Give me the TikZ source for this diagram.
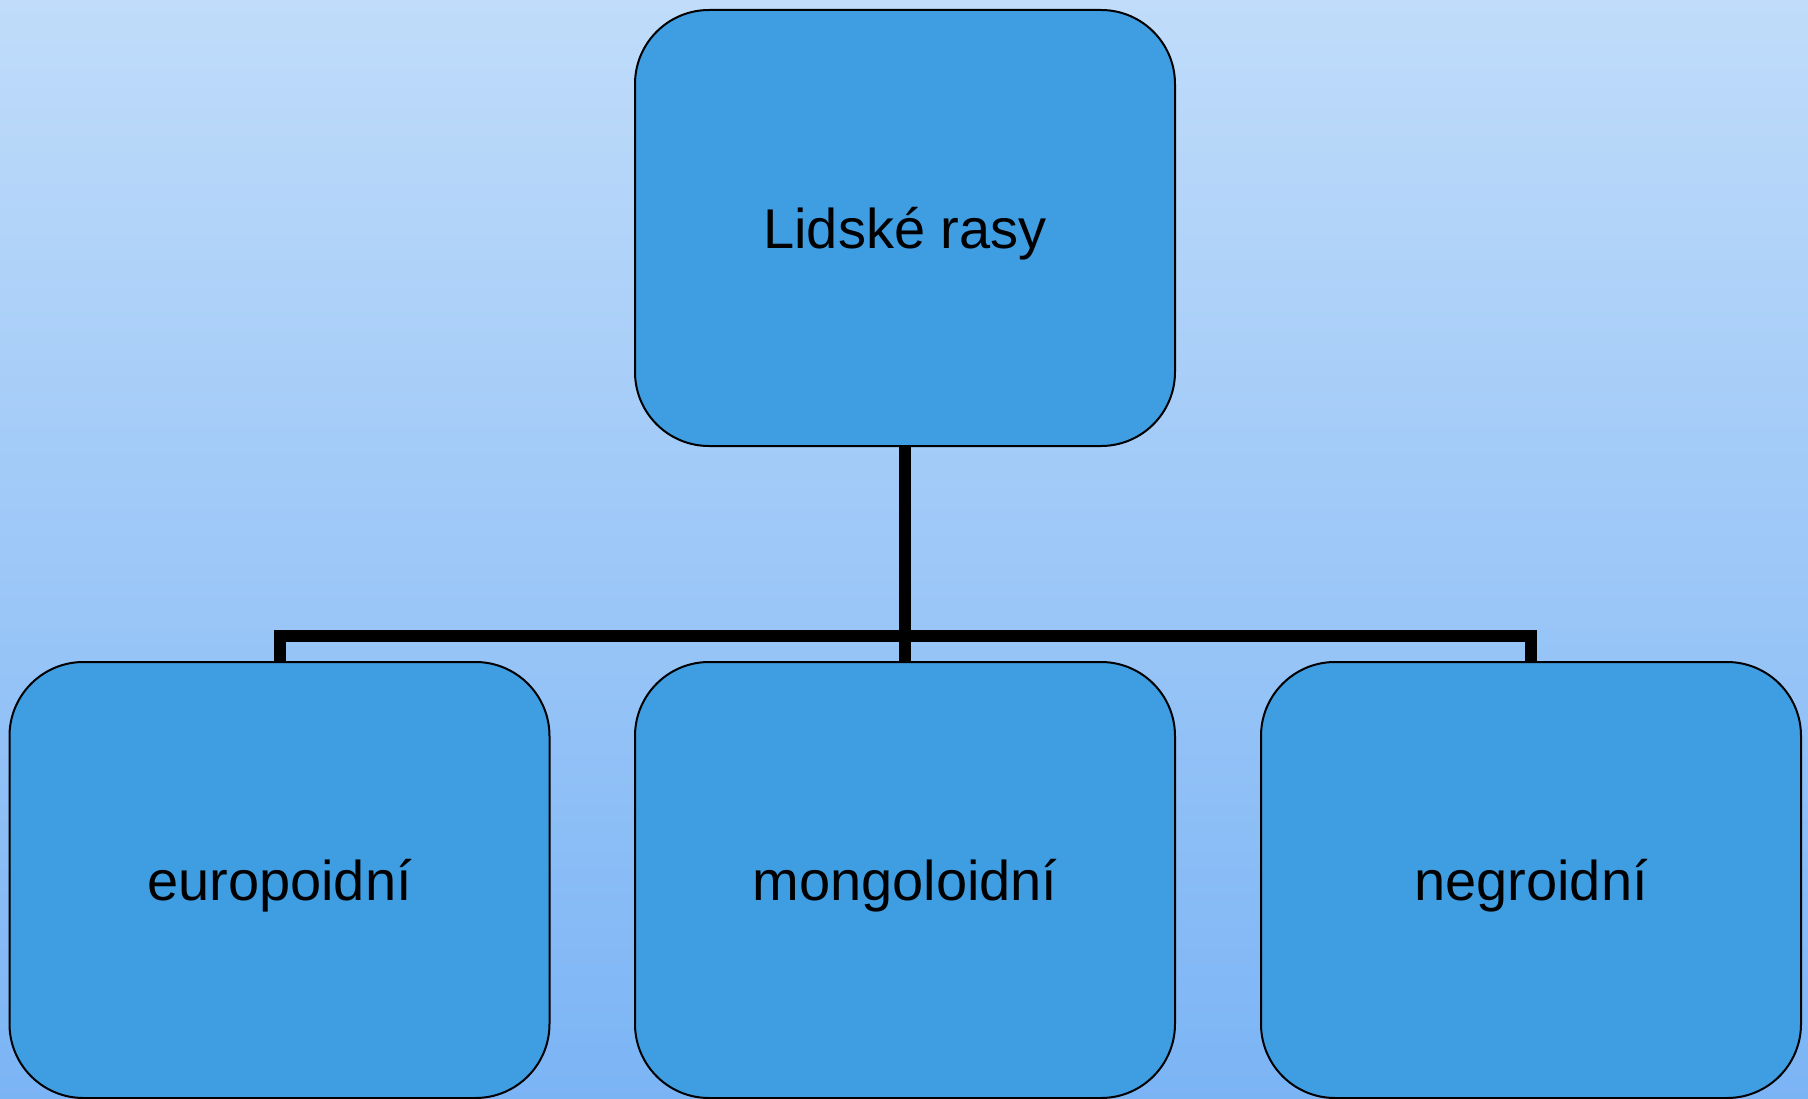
\documentclass[tikz,border=0pt]{standalone}
\usepackage{fontspec}
\setmainfont{Liberation Sans}
\definecolor{bgtop}{HTML}{C0DCFA}
\definecolor{bgbot}{HTML}{7BB4F5}
\definecolor{boxfill}{HTML}{3F9DE2}
\begin{document}
\begin{tikzpicture}[x=1pt,y=-1pt,
  rbox/.style={draw=black, line width=2pt, fill=boxfill, rounded corners=74pt,
    minimum width=540pt, minimum height=436pt, inner sep=0pt, outer sep=0pt,
    text depth=0pt, font=\fontsize{56pt}{64pt}\selectfont},
  conn/.style={line width=12pt, line join=miter, line cap=butt}]
\shade[top color=bgtop, bottom color=bgbot, middle color=bgtop!50!bgbot] (0,0) rectangle (1808,1099);
\useasboundingbox (0,0) rectangle (1808,1099);
\node[rbox] (top) at (905,228) {Lidské rasy};
\node[rbox] (left) at (279.5,880) {europoidní};
\node[rbox] (mid) at (905,880) {mongoloidní};
\node[rbox] (right) at (1531,880) {negroidní};
\coordinate (bus) at (905,636);
\draw[conn] (left.north) -- (left.north |- bus) -- (right.north |- bus) -- (right.north);
\draw[conn] (top.south) -- (mid.north);
\end{tikzpicture}
\end{document}
